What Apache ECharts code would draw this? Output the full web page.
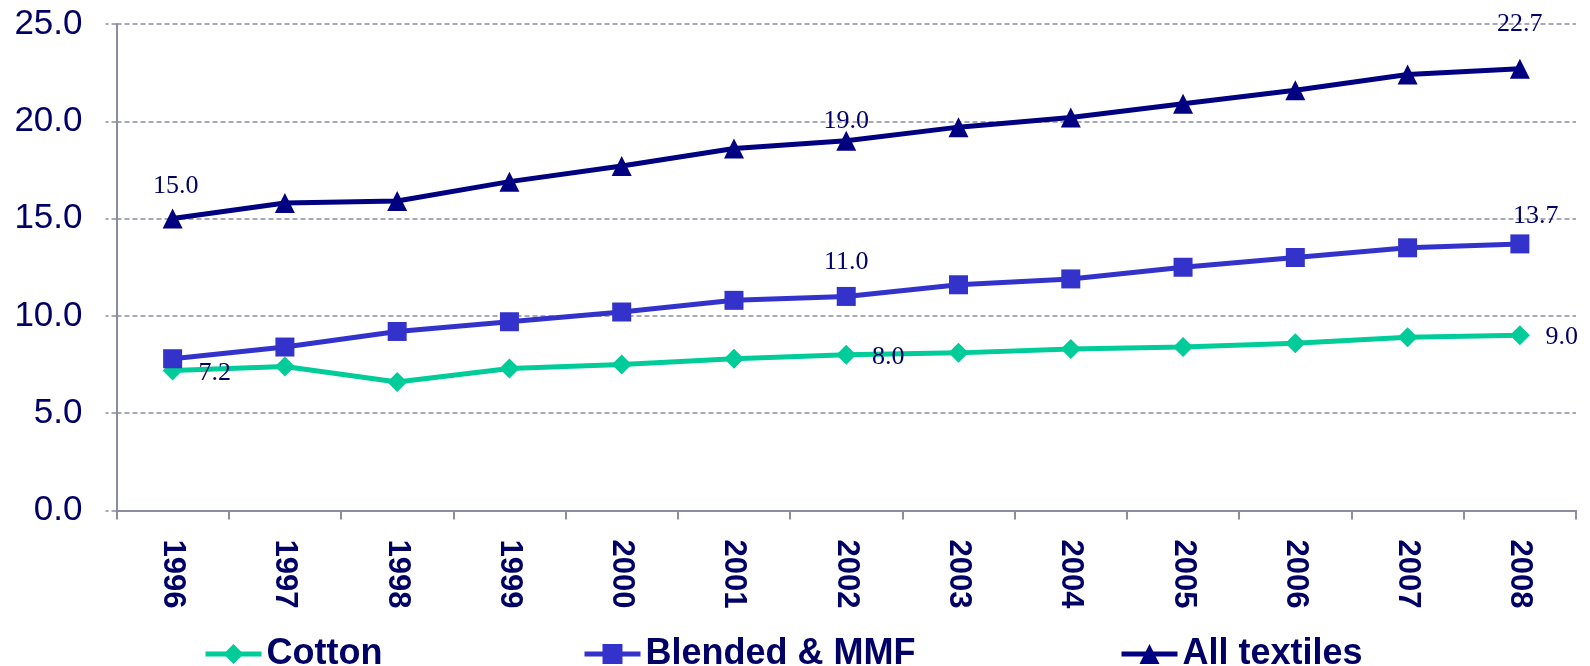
<!DOCTYPE html>
<html>
<head>
<meta charset="utf-8">
<script src="https://cdn.jsdelivr.net/npm/echarts@6/dist/echarts.min.js"></script>
<style>
  html, body { margin: 0; padding: 0; background: #ffffff; }
  #chart { width: 1590px; height: 666px; }
</style>
</head>
<body>
<div id="chart"></div>
<script>
const years = ['1996','1997','1998','1999','2000','2001','2002','2003','2004','2005','2006','2007','2008'];
const cotton = [7.2, 7.4, 6.6, 7.3, 7.5, 7.8, 8.0, 8.1, 8.3, 8.4, 8.6, 8.9, 9.0];
const blended = [7.8, 8.4, 9.2, 9.7, 10.2, 10.8, 11.0, 11.6, 11.9, 12.5, 13.0, 13.5, 13.7];
const allTextiles = [15.0, 15.8, 15.9, 16.9, 17.7, 18.6, 19.0, 19.7, 20.2, 20.9, 21.6, 22.4, 22.7];
const yTicks = [0, 5, 10, 15, 20, 25];

// which points carry a value label, and where the label sits relative to the point
const cottonLabels = {0: [42, 3], 6: [42, 2], 12: [42, 2]};
const blendedLabels = {6: [0, -34], 12: [16, -28]};
const allLabels = {0: [3, -32], 6: [0, -20], 12: [0, -45]};

const textNavy = '#000066';
const gridGray = '#8c8ca0';

function buildData(values, labelMap) {
  return values.map((v, i) => {
    if (labelMap[i]) {
      return {
        value: v,
        label: {
          show: true,
          position: 'inside',
          offset: labelMap[i],
          formatter: (p) => p.value.toFixed(1),
          fontFamily: '"Liberation Serif", "Times New Roman", serif',
          fontSize: 26,
          color: textNavy
        }
      };
    }
    return v;
  });
}

const legendText = {
  fontFamily: '"Liberation Sans", Arial, sans-serif',
  fontSize: 36,
  fontWeight: 'bold',
  color: textNavy,
  lineHeight: 40
};
const legendBase = { top: 629, itemWidth: 56, itemHeight: 25, textStyle: legendText, lineStyle: { width: 5 } };

const chart = echarts.init(document.getElementById('chart'), null, {renderer: 'canvas'});
chart.setOption({
  animation: false,
  backgroundColor: '#ffffff',
  grid: { left: 116.5, right: 14, top: 24, bottom: 155.5, containLabel: false },
  legend: [
    Object.assign({ data: ['Cotton'], left: 198 }, legendBase),
    Object.assign({ data: ['Blended & MMF'], left: 577 }, legendBase),
    Object.assign({ data: ['All textiles'], left: 1114 }, legendBase)
  ],
  xAxis: {
    type: 'category',
    data: years,
    boundaryGap: true,
    axisLine: { show: true, lineStyle: { color: gridGray, width: 2 } },
    axisTick: { show: true, length: 9, lineStyle: { color: gridGray, width: 2 } },
    axisLabel: {
      rotate: -90,
      margin: 29,
      fontFamily: '"Liberation Sans", Arial, sans-serif',
      fontSize: 31,
      fontWeight: 'bold',
      color: textNavy
    },
    splitLine: { show: false }
  },
  yAxis: {
    type: 'value',
    min: yTicks[0],
    max: yTicks[yTicks.length - 1],
    interval: 5,
    axisLine: { show: true, lineStyle: { color: gridGray, width: 2 } },
    axisTick: { show: true, length: 11, lineStyle: { color: gridGray, width: 1.5, type: [5, 3] } },
    axisLabel: {
      margin: 34,
      fontFamily: '"Liberation Sans", Arial, sans-serif',
      fontSize: 35,
      color: textNavy,
      formatter: (v) => v.toFixed(1)
    },
    splitLine: { show: true, lineStyle: { color: gridGray, width: 1.5, type: [5, 3] } }
  },
  series: [
    {
      name: 'Cotton',
      type: 'line',
      data: buildData(cotton, cottonLabels),
      symbol: 'diamond',
      symbolSize: 20,
      lineStyle: { color: '#00cc99', width: 5 },
      itemStyle: { color: '#00cc99' },
      label: { show: false },
      z: 2
    },
    {
      name: 'Blended & MMF',
      type: 'line',
      data: buildData(blended, blendedLabels),
      symbol: 'rect',
      symbolSize: 19,
      lineStyle: { color: '#3333cc', width: 5 },
      itemStyle: { color: '#3333cc' },
      label: { show: false },
      z: 3
    },
    {
      name: 'All textiles',
      type: 'line',
      data: buildData(allTextiles, allLabels),
      symbol: 'triangle',
      symbolSize: 20,
      lineStyle: { color: '#000080', width: 5 },
      itemStyle: { color: '#000080' },
      label: { show: false },
      z: 4
    }
  ]
});
</script>
</body>
</html>
